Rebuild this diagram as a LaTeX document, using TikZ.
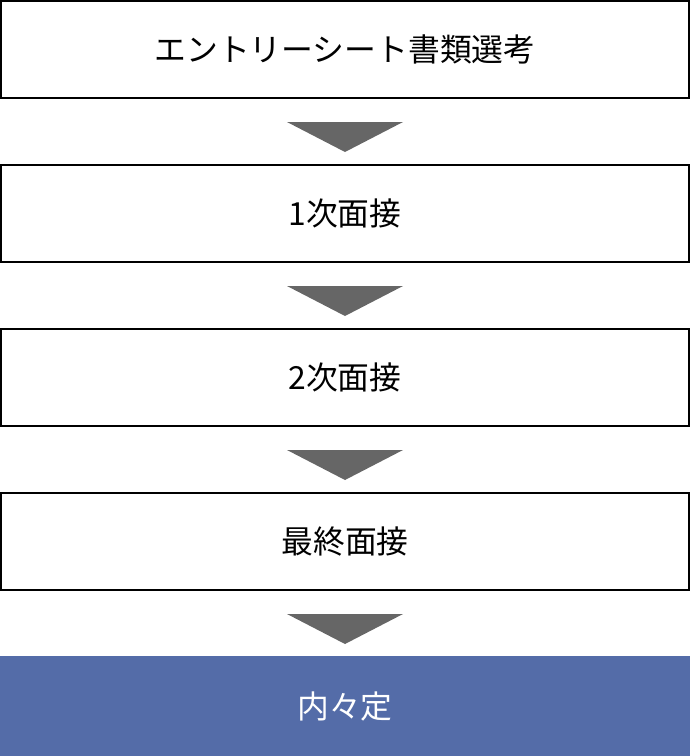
\documentclass[tikz,border=0pt]{standalone}
\usepackage{fontspec}
\newfontfamily\jpfont{Noto Sans CJK JP}
\definecolor{stepblue}{HTML}{546CA8}
\definecolor{arrowgray}{HTML}{666666}
\begin{document}
\begin{tikzpicture}[x=1pt,y=-1pt,
  stepbox/.style={draw=black, line width=2pt, fill=white},
  lastbox/.style={fill=stepblue, draw=none},
  steptext/.style={font=\jpfont\fontsize{31.8}{38}\selectfont, text=black, anchor=center},
  lasttext/.style={font=\jpfont\fontsize{31.8}{38}\selectfont, text=white, anchor=center},
  tri/.style={fill=arrowgray, draw=none}]
\useasboundingbox (0,0) rectangle (690,756);
\draw[stepbox] (1,1) rectangle (689,98);
\node[steptext] (s1) at (345,49) {エントリーシート書類選考};
\fill[tri] (287,122) -- (403,122) -- (345,152) -- cycle;
\draw[stepbox] (1,165) rectangle (689,262);
\node[steptext] (s2) at (345,213) {1次面接};
\fill[tri] (287,286) -- (403,286) -- (345,316) -- cycle;
\draw[stepbox] (1,329) rectangle (689,426);
\node[steptext] (s3) at (345,377) {2次面接};
\fill[tri] (287,450) -- (403,450) -- (345,480) -- cycle;
\draw[stepbox] (1,493) rectangle (689,590);
\node[steptext] (s4) at (345,541) {最終面接};
\fill[tri] (287,614) -- (403,614) -- (345,644) -- cycle;
\fill[lastbox] (0,656) rectangle (690,756);
\node[lasttext] (s5) at (345,706) {内々定};
\end{tikzpicture}
\end{document}
